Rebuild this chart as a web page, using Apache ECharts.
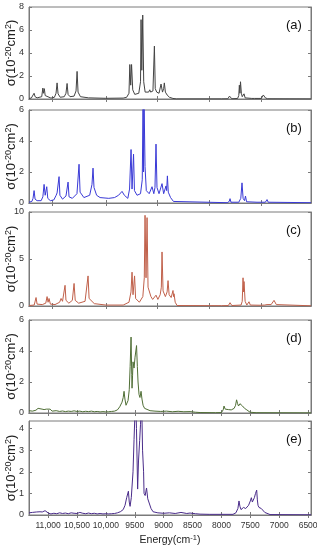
<!DOCTYPE html>
<html>
<head>
<meta charset="utf-8">
<script src="https://cdn.jsdelivr.net/npm/echarts@6/dist/echarts.min.js"></script>
<style>
html,body{margin:0;padding:0;background:#fff;}
#c{width:317px;height:550px;}
</style>
</head>
<body>
<div id="c"></div>
<script>
// ---- Data (energy in cm^-1, cross-section in 1e-20 cm^2) ----
const energyA = [11330,11290,11260,11242,11225,11190,11110,11090,11080,11065,11050,11020,10950,10890,10862,10844,10827,10790,10720,10690,10671,10654,10620,10550,10516,10498,10481,10440,10300,10000,9700,9640,9600,9585,9570,9555,9535,9500,9430,9400,9391,9378,9362,9345,9320,9260,9240,9225,9185,9160,9145,9120,9080,9045,9020,9000,8988,8970,8940,8900,8840,8780,8000,7890,7860,7840,7820,7720,7700,7690,7680,7670,7655,7640,7620,7609,7590,7560,7475,7453,7430,7350,7332,7310,7290,7275,7262,7240,7200,6450];
const sigmaA  = [0.05,0.08,0.2,0.5,0.2,0.1,0.2,0.95,0.5,0.9,0.3,0.15,0.08,0.15,0.5,1.4,0.45,0.15,0.2,0.5,1.35,0.4,0.2,0.25,0.7,2.4,0.6,0.2,0.1,0.06,0.08,0.15,0.5,3.0,1.2,3.0,0.8,0.4,0.5,1.5,6.9,2.5,7.3,1.5,0.6,0.6,0.8,0.6,0.7,4.6,0.9,0.6,0.5,1.3,0.6,0.9,1.4,0.6,0.35,0.15,0.05,0.01,0.01,0.02,0.25,0.25,0.02,0.05,0.3,1.2,0.5,1.5,0.5,0.2,0.2,0.45,0.1,0.05,0.05,0.2,0.05,0.05,0.15,0.05,0.1,0.35,0.3,0.1,0.02,0.01];

const energyB = [11330,11280,11260,11242,11225,11190,11120,11090,11069,11050,11023,11005,10960,10900,10860,10844,10825,10810,10795,10750,10690,10654,10637,10580,10500,10464,10446,10380,10280,10240,10222,10205,10160,10100,9950,9850,9780,9720,9680,9620,9590,9564,9547,9521,9505,9460,9400,9370,9356,9348,9339,9322,9300,9250,9201,9170,9150,9132,9115,9080,9028,9000,8975,8959,8948,8935,8920,8880,8830,8800,7900,7865,7851,7835,7700,7665,7644,7625,7600,7584,7565,7384,7240,7211,7190,6450];
const sigmaB  = [0.05,0.1,0.3,0.8,0.25,0.15,0.15,0.4,1.2,0.5,1.05,0.3,0.15,0.2,0.5,0.65,0.6,1.7,0.5,0.25,0.45,1.35,0.4,0.3,0.6,2.5,0.7,0.35,0.5,1.2,2.25,1.0,0.5,0.35,0.3,0.35,0.5,0.75,0.5,0.3,0.9,3.45,0.9,3.15,0.8,0.5,0.6,1.5,6.6,2.0,6.6,2.35,0.8,0.6,1.05,0.6,1.0,3.8,1.0,0.6,1.25,0.6,0.7,1.1,0.8,1.75,0.7,0.35,0.1,0.02,0.02,0.1,0.28,0.05,0.05,0.3,1.3,0.3,0.15,0.45,0.08,0.05,0.05,0.22,0.05,0.02];

const energyC = [11330,11240,11208,11190,11100,11040,11017,11000,10983,10960,10880,10800,10775,10750,10730,10706,10690,10640,10580,10550,10530,10470,10360,10308,10290,10200,10000,9700,9600,9565,9547,9530,9503,9485,9420,9360,9335,9322,9305,9287,9270,9253,9220,9190,9132,9100,9060,9040,9028,9010,8970,8940,8924,8905,8870,8838,8828,8820,8800,8768,8000,7880,7851,7820,7660,7640,7626,7617,7609,7590,7560,7523,7500,7330,7298,7250,7211,7140,7090,7050,7021,6450];
const sigmaC  = [0.05,0.1,0.9,0.2,0.15,0.3,1.0,0.4,0.8,0.2,0.15,0.4,0.8,0.5,0.7,2.2,0.6,0.3,0.6,2.4,0.6,0.3,0.5,3.2,0.8,0.25,0.1,0.1,0.4,1.5,3.6,1.2,3.2,0.8,0.4,1.0,3.0,9.65,3.0,9.4,2.0,2.1,1.0,0.7,1.15,0.7,1.2,2.0,5.75,1.6,1.0,1.5,2.7,1.2,0.9,1.65,1.0,1.3,0.4,0.05,0.03,0.05,0.35,0.05,0.1,0.5,3.0,1.5,2.6,0.5,0.1,0.45,0.1,0.08,0.2,0.1,0.15,0.15,0.6,0.15,0.05,0.02];

const energyD = [11330,11300,11270,11240,11210,11173,11140,11104,11069,11030,11000,10965,10930,10900,10860,10800,10750,10700,10650,10600,10550,10500,10450,10400,10350,10300,10250,10200,10150,10100,10050,10000,9950,9900,9850,9800,9760,9720,9700,9685,9670,9651,9630,9616,9595,9580,9564,9552,9547,9538,9530,9521,9512,9495,9469,9455,9443,9426,9410,9391,9375,9356,9330,9305,9235,9150,9050,8950,8850,8750,8650,8543,8450,8370,8100,8000,7970,7955,7935,7912,7880,7851,7830,7817,7780,7755,7738,7720,7704,7680,7661,7650,7635,7600,7560,7530,7505,7400,6450];
const sigmaD  = [0.15,0.2,0.12,0.22,0.18,0.3,0.2,0.25,0.22,0.25,0.18,0.25,0.12,0.08,0.15,0.1,0.13,0.09,0.12,0.1,0.14,0.1,0.12,0.08,0.11,0.09,0.12,0.08,0.1,0.07,0.09,0.07,0.08,0.1,0.12,0.2,0.4,0.7,1.0,1.4,0.9,0.5,0.6,0.8,1.5,3.0,4.9,2.5,1.6,2.4,3.3,3.1,2.9,3.6,4.35,3.0,2.0,1.2,1.0,1.4,0.9,0.5,0.3,0.2,0.15,0.12,0.1,0.12,0.08,0.11,0.08,0.09,0.05,0.03,0.02,0.03,0.2,0.45,0.25,0.2,0.22,0.25,0.2,0.2,0.3,0.5,0.85,0.6,0.45,0.6,0.7,0.5,0.45,0.3,0.2,0.1,0.05,0.02,0.01];

const energyE = [11330,11300,11270,11240,11200,11173,11140,11100,11069,11052,11020,10990,10950,10900,10850,10800,10750,10700,10650,10600,10550,10500,10450,10400,10350,10300,10250,10200,10150,10100,10050,10000,9950,9900,9850,9800,9750,9700,9668,9640,9610,9595,9581,9560,9530,9512,9486,9470,9450,9435,9415,9400,9382,9365,9347,9339,9320,9296,9275,9253,9218,9183,9100,9000,8900,8800,8700,8600,8543,8450,8370,8200,7800,7750,7715,7696,7680,7661,7640,7618,7600,7580,7530,7500,7482,7465,7453,7430,7410,7390,7378,7367,7350,7332,7310,7280,7250,7228,7159,6450];
const sigmaE  = [0.1,0.15,0.12,0.18,0.14,0.2,0.15,0.14,0.18,0.2,0.15,0.08,0.05,0.08,0.06,0.1,0.07,0.09,0.06,0.1,0.08,0.07,0.12,0.08,0.06,0.09,0.06,0.08,0.05,0.07,0.05,0.06,0.05,0.06,0.07,0.1,0.15,0.25,0.45,0.8,1.1,0.6,0.4,0.8,2.0,3.5,5.5,4.0,1.2,2.5,3.45,4.2,5.5,3.0,2.0,1.0,0.9,1.25,0.75,0.7,0.3,0.15,0.1,0.08,0.1,0.07,0.12,0.07,0.09,0.06,0.04,0.03,0.03,0.1,0.3,0.65,0.4,0.25,0.3,0.35,0.3,0.3,0.45,0.65,0.8,0.6,0.55,0.8,1.0,1.15,0.7,0.45,0.35,0.3,0.3,0.25,0.12,0.05,0.02,0.01];

// ---- Axis tick labels ----
const energyTickLabels = [11000,10500,10000,9500,9000,8500,8000,7500,7000,6500];
const upperPanelTicks = [10930,10000,9110,8210,7310];
const panelNames = ['(a)','(b)','(c)','(d)','(e)'];
const yMax = [8,6,10,6,4.35];
const yStep = [2,2,5,2,1];

// ---- Layout / style ----
const gridTops = [7,110,212,320,421];
const gridHeights = [92,93,94,93,94];
const lineColors = ['#444444','#3a3ad6','#c0604a','#4f6e35','#4a2c8a'];
const FONT = 'Liberation Sans, Arial, sans-serif';
const FRAME = '#7a7a7a';

const allE = [energyA,energyB,energyC,energyD,energyE];
const allS = [sigmaA,sigmaB,sigmaC,sigmaD,sigmaE];

const grids=[], xAxes=[], yAxes=[], series=[], graphics=[];
for (let i=0;i<5;i++){
  grids.push({left:29,right:6,top:gridTops[i],height:gridHeights[i],show:true,borderColor:FRAME,borderWidth:1,backgroundColor:'#fff',outerBoundsMode:'none',containLabel:false});
  const ticks = i<3 ? upperPanelTicks : energyTickLabels;
  const isLast = i===4;
  const xBase = {
    type:'value', gridIndex:i, min:6450, max:11330, inverse:true,
    splitLine:{show:false},
    axisLine:{show:true,lineStyle:{color:FRAME,width:1}},
    axisTick:{show:true,inside:true,length:3,customValues:ticks,lineStyle:{color:FRAME}},
  };
  xAxes.push(Object.assign({}, xBase, {
    position:'bottom',
    axisLabel: isLast ? {show:true,customValues:energyTickLabels,fontSize:8.5,color:'#333',fontFamily:FONT,margin:6,
      hideOverlap:false,showMinLabel:true,showMaxLabel:true,
      formatter:v=> v>=10000 ? (Math.floor(v/1000)+','+String(v%1000).padStart(3,'0')) : String(v)} : {show:false},
    name: isLast ? '{n|Energy(cm}{s|-1}{n|)}' : '',
    nameLocation:'middle', nameGap:19, nameMoveOverlap:false,
    nameTextStyle:{fontSize:10.5,color:'#222',fontFamily:FONT,
      rich:{n:{fontSize:10.5,lineHeight:13,color:'#222',fontFamily:FONT},
            s:{fontSize:7.5,verticalAlign:'top',color:'#222',fontFamily:FONT}}}
  }));
  xAxes.push(Object.assign({}, xBase, {position:'top',axisLabel:{show:false}}));
  const yBase = {
    type:'value', gridIndex:i, min:0, max:yMax[i], interval:yStep[i],
    splitLine:{show:false},
    axisLine:{show:true,lineStyle:{color:FRAME,width:1}},
    axisTick:{show:true,inside:true,length:3,lineStyle:{color:FRAME}},
  };
  yAxes.push(Object.assign({}, yBase, {
    position:'left',
    axisLabel:{show:true,fontSize:9,color:'#333',fontFamily:FONT,margin:5,showMaxLabel:i!==4,hideOverlap:false},
    name:'{n|\u03C3(10}{s|-20}{n|cm}{s|2}{n|)}', nameLocation:'middle', nameGap:10, nameMoveOverlap:false,
    nameTextStyle:{fontSize:13,color:'#222',fontFamily:FONT,
      rich:{n:{fontSize:13,lineHeight:15,color:'#222',fontFamily:FONT},
            s:{fontSize:9,verticalAlign:'top',color:'#222',fontFamily:FONT}}}
  }));
  yAxes.push(Object.assign({}, yBase, {position:'right',axisLabel:{show:false}}));
  series.push({
    type:'line', xAxisIndex:2*i, yAxisIndex:2*i,
    data: allE[i].map((e,k)=>[e, allS[i][k]]),
    showSymbol:false, symbol:'none', clip:true,
    lineStyle:{width:1,color:lineColors[i]},
    animation:false
  });
  graphics.push({type:'text', left:286, top:gridTops[i]+12,
    style:{text:panelNames[i], fontSize:13, fill:'#111', fontFamily:FONT}});
}

const chart = echarts.init(document.getElementById('c'), null, {renderer:'canvas'});
chart.setOption({
  animation:false,
  backgroundColor:'#fff',
  grid:grids, xAxis:xAxes, yAxis:yAxes, series:series, graphic:graphics,
  visualMap:[
    {type:'continuous',show:false,seriesIndex:2,dimension:1,min:0,max:3,inRange:{color:['#8a8258','#c4604a','#c4604a']}},
    {type:'continuous',show:false,seriesIndex:3,dimension:1,min:0,max:3,inRange:{color:['#2c4a1c','#6f9150','#7a9a5a']}},
    {type:'continuous',show:false,seriesIndex:4,dimension:1,min:0,max:3,inRange:{color:['#2d1f6e','#8a4aa8','#b45cc0']}}
  ]
});
</script>
</body>
</html>
